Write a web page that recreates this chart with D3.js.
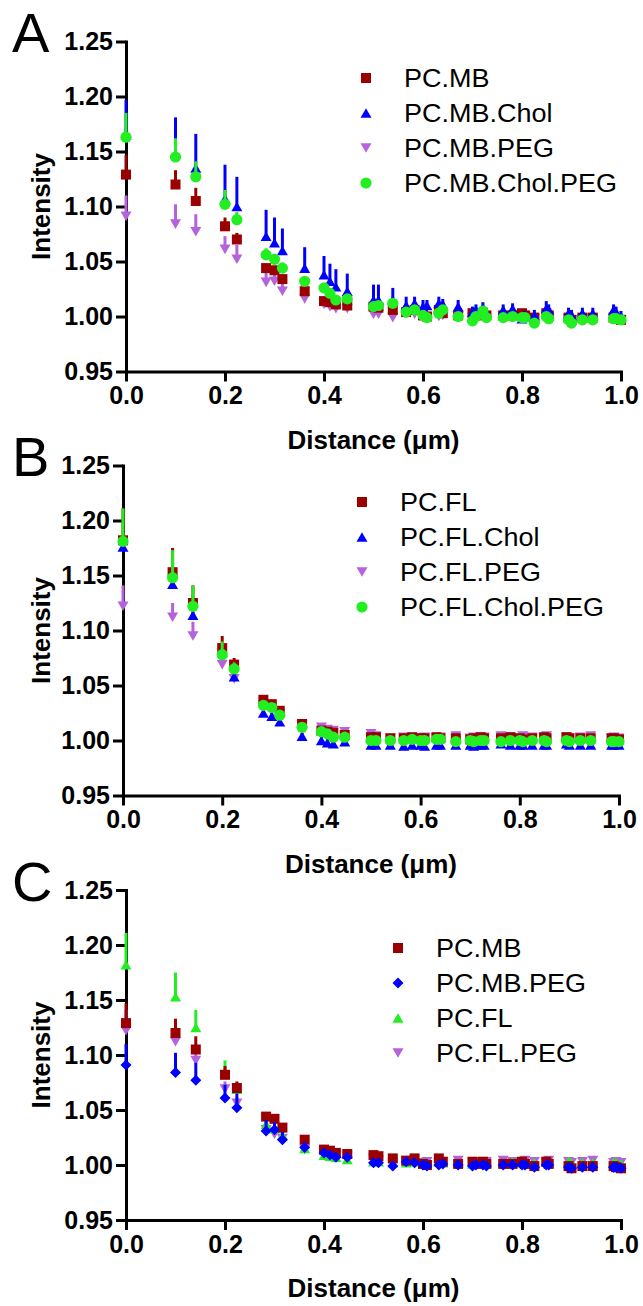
<!DOCTYPE html>
<html><head><meta charset="utf-8">
<script src="https://cdn.jsdelivr.net/npm/d3@7"></script>
<style>
body{margin:0;background:#fff}
svg{display:block}
text{font-family:"Liberation Sans",Arial,Helvetica,sans-serif;fill:#000}
</style>
</head><body>
<svg id="chart" width="643" height="1306"></svg>
<script>
// ---------- data ----------
const distances = [0, 0.1, 0.141, 0.2, 0.224, 0.283, 0.3, 0.316, 0.361, 0.4, 0.412, 0.424, 0.447, 0.5, 0.51, 0.539, 0.566, 0.583, 0.6, 0.608, 0.632, 0.64, 0.671, 0.7, 0.707, 0.721, 0.728, 0.762, 0.781, 0.8, 0.806, 0.825, 0.849, 0.854, 0.894, 0.9, 0.922, 0.943, 0.985, 0.99, 1.0];
const yTickValues = [0.95, 1.00, 1.05, 1.10, 1.15, 1.20, 1.25];
const xTickValues = [0.0, 0.2, 0.4, 0.6, 0.8, 1.0];
const yTickLabels = ["0.95", "1.00", "1.05", "1.10", "1.15", "1.20", "1.25"];
const xTickLabels = ["0.0", "0.2", "0.4", "0.6", "0.8", "1.0"];

// PC.MB
const pcMB    = [1.129,1.120,1.105,1.082,1.070,1.044,1.042,1.034,1.023,1.014,1.013,1.011,1.010,1.009,1.008,1.006,1.004,1.006,1.001,1.000,1.006,1.003,1.001,1.003,1.001,1.003,1.001,1.001,1.001,1.003,1.001,0.999,1.003,1.001,0.999,0.997,0.999,0.999,0.999,0.998,0.997];
const pcMBErr = [0.018,0.013,0.012,0.008,0.006,0.004,0.004,0.004,0.003,0.003,0.003,0.003,0.003,0.003,0.003,0.003,0.003,0.003,0.003,0.003,0.003,0.003,0.003,0.003,0.003,0.003,0.003,0.003,0.003,0.003,0.003,0.003,0.003,0.003,0.003,0.003,0.003,0.003,0.003,0.003,0.003];
// PC.MB.Chol
const pcMBChol    = [1.165,1.148,1.135,1.107,1.100,1.073,1.067,1.060,1.044,1.038,1.032,1.027,1.023,1.015,1.015,1.015,1.010,1.012,1.009,1.010,1.012,1.011,1.009,1.004,1.006,1.008,1.003,1.006,1.007,0.998,1.000,1.001,1.007,1.006,1.003,1.001,1.003,1.003,1.006,1.004,1.000];
const pcMBCholErr = [0.032,0.033,0.031,0.031,0.027,0.024,0.023,0.020,0.019,0.017,0.016,0.016,0.016,0.014,0.014,0.011,0.008,0.006,0.006,0.005,0.006,0.005,0.006,0.005,0.005,0.005,0.005,0.005,0.005,0.005,0.005,0.005,0.007,0.005,0.005,0.005,0.005,0.005,0.005,0.005,0.005];
// PC.MB.PEG
const pcMBPEG    = [1.091,1.084,1.077,1.061,1.052,1.031,1.032,1.023,1.016,1.011,1.009,1.007,1.007,1.002,1.002,0.999,1.003,1.002,1.000,0.999,1.000,1.001,1.000,0.999,1.000,1.000,0.999,1.000,1.000,1.000,1.000,0.998,1.000,1.000,0.998,0.997,0.998,0.998,0.998,0.998,0.997];
const pcMBPEGErr = [0.019,0.018,0.016,0.012,0.013,0.010,0.007,0.007,0.005,0.004,0.004,0.004,0.004,0.004,0.004,0.004,0.004,0.004,0.004,0.004,0.004,0.004,0.004,0.004,0.004,0.004,0.004,0.004,0.004,0.004,0.004,0.004,0.004,0.004,0.004,0.004,0.004,0.004,0.004,0.004,0.004];
// PC.MB.Chol.PEG
const pcMBCholPEG    = [1.163,1.145,1.127,1.102,1.088,1.056,1.052,1.044,1.032,1.026,1.021,1.015,1.016,1.009,1.010,1.012,1.004,1.006,1.001,0.999,1.003,1.006,1.000,0.996,1.000,1.005,0.999,0.999,1.000,0.999,0.999,0.994,1.000,0.998,0.997,0.994,0.997,0.997,0.998,0.998,0.997];
const pcMBCholPEGErr = [0.022,0.017,0.014,0.013,0.007,0.006,0.005,0.005,0.004,0.003,0.003,0.003,0.003,0.003,0.003,0.003,0.003,0.003,0.003,0.003,0.003,0.003,0.003,0.003,0.003,0.003,0.003,0.003,0.003,0.003,0.003,0.003,0.003,0.003,0.003,0.003,0.003,0.003,0.003,0.003,0.003];
// PC.FL
const pcFL    = [1.182,1.153,1.125,1.084,1.069,1.037,1.033,1.027,1.015,1.009,1.008,1.007,1.005,1.003,1.003,1.002,1.002,1.003,1.002,1.002,1.003,1.002,1.002,1.001,1.002,1.003,1.002,1.002,1.003,1.002,1.001,1.002,1.003,1.002,1.003,1.002,1.002,1.002,1.002,1.002,1.001];
const pcFLErr = [0.029,0.022,0.016,0.011,0.006,0.004,0.004,0.004,0.003,0.003,0.003,0.003,0.003,0.003,0.003,0.003,0.003,0.003,0.003,0.003,0.003,0.003,0.003,0.003,0.003,0.003,0.003,0.003,0.003,0.003,0.003,0.003,0.003,0.003,0.003,0.003,0.003,0.003,0.003,0.003,0.003];
// PC.FL.Chol
const pcFLChol    = [1.176,1.142,1.114,1.080,1.058,1.025,1.022,1.017,1.004,1.000,0.998,0.997,0.999,0.996,0.996,0.996,0.995,0.996,0.996,0.995,0.996,0.996,0.996,0.996,0.995,0.996,0.996,0.997,0.996,0.996,0.996,0.996,0.996,0.996,0.997,0.996,0.996,0.996,0.996,0.996,0.996];
const pcFLCholErr = [0.005,0.005,0.005,0.004,0.003,0.003,0.003,0.003,0.003,0.003,0.003,0.003,0.003,0.003,0.003,0.003,0.003,0.003,0.003,0.003,0.003,0.003,0.003,0.003,0.003,0.003,0.003,0.003,0.003,0.003,0.003,0.003,0.003,0.003,0.003,0.003,0.003,0.003,0.003,0.003,0.003];
// PC.FL.PEG
const pcFLPEG    = [1.122,1.112,1.095,1.069,1.056,1.032,1.028,1.024,1.014,1.012,1.010,1.009,1.008,1.006,1.004,1.002,1.003,1.001,1.002,1.003,1.002,1.003,1.004,1.002,1.003,1.002,1.003,1.004,1.003,1.002,1.004,1.003,1.002,1.004,1.003,1.002,1.003,1.004,1.002,1.003,1.002];
const pcFLPEGErr = [0.019,0.013,0.013,0.007,0.005,0.003,0.003,0.003,0.003,0.003,0.003,0.003,0.003,0.003,0.003,0.003,0.003,0.003,0.003,0.003,0.003,0.003,0.003,0.003,0.003,0.003,0.003,0.003,0.003,0.003,0.003,0.003,0.003,0.003,0.003,0.003,0.003,0.003,0.003,0.003,0.003];
// PC.FL.Chol.PEG
const pcFLCholPEG    = [1.181,1.148,1.122,1.078,1.065,1.032,1.030,1.023,1.012,1.008,1.006,1.003,1.003,1.000,1.000,1.000,1.000,1.001,1.000,1.000,1.001,1.001,0.999,1.000,0.999,1.000,1.000,0.999,1.000,1.000,0.999,1.000,1.000,0.999,1.000,0.999,1.000,1.000,0.999,0.999,0.999];
const pcFLCholPEGErr = [0.030,0.025,0.019,0.012,0.006,0.004,0.003,0.003,0.003,0.003,0.003,0.003,0.003,0.003,0.003,0.003,0.003,0.003,0.003,0.003,0.003,0.003,0.003,0.003,0.003,0.003,0.003,0.003,0.003,0.003,0.003,0.003,0.003,0.003,0.003,0.003,0.003,0.003,0.003,0.003,0.003];

const panelLetters = ["A", "B", "C"];
const legendA = ["PC.MB", "PC.MB.Chol", "PC.MB.PEG", "PC.MB.Chol.PEG"];
const legendB = ["PC.FL", "PC.FL.Chol", "PC.FL.PEG", "PC.FL.Chol.PEG"];
const legendC = ["PC.MB", "PC.MB.PEG", "PC.FL", "PC.FL.PEG"];
const xTitle = "Distance (\u03bcm)";
const yTitle = "Intensity";

// ---------- styles ----------
const RED = "#9b0000", BLUE = "#0000ff", PURPLE = "#b463dc", GREEN = "#22ee22";

// ---------- layout ----------
const panels = [
  { letter: panelLetters[0], left: 126, right: 621, top: 41.5, bottom: 371.5, legX: 366, legY: 78, legGap: 35,
    series: [
      { name: legendA[0], v: pcMB, e: pcMBErr, color: RED, shape: "square" },
      { name: legendA[1], v: pcMBChol, e: pcMBCholErr, color: BLUE, shape: "triUp" },
      { name: legendA[2], v: pcMBPEG, e: pcMBPEGErr, color: PURPLE, shape: "triDown" },
      { name: legendA[3], v: pcMBCholPEG, e: pcMBCholPEGErr, color: GREEN, shape: "circle" }
    ], order: [2, 0, 1, 3] },
  { letter: panelLetters[1], left: 123, right: 619, top: 465.5, bottom: 795.5, legX: 362, legY: 502, legGap: 35,
    series: [
      { name: legendB[0], v: pcFL, e: pcFLErr, color: RED, shape: "square" },
      { name: legendB[1], v: pcFLChol, e: pcFLCholErr, color: BLUE, shape: "triUp" },
      { name: legendB[2], v: pcFLPEG, e: pcFLPEGErr, color: PURPLE, shape: "triDown" },
      { name: legendB[3], v: pcFLCholPEG, e: pcFLCholPEGErr, color: GREEN, shape: "circle" }
    ], order: [2, 0, 1, 3] },
  { letter: panelLetters[2], left: 126, right: 621, top: 890, bottom: 1220, legX: 398, legY: 948, legGap: 35,
    series: [
      { name: legendC[0], v: pcMB, e: pcMBErr, color: RED, shape: "square" },
      { name: legendC[1], v: pcMBPEG, e: pcMBPEGErr, color: BLUE, shape: "diamond" },
      { name: legendC[2], v: pcFL, e: pcFLErr, color: GREEN, shape: "triUp" },
      { name: legendC[3], v: pcFLPEG, e: pcFLPEGErr, color: PURPLE, shape: "triDown" }
    ], order: [3, 2, 0, 1] }
];

function shapePath(shape) {
  switch (shape) {
    case "square": { const s = 10; return `M${-s/2},${-s/2}h${s}v${s}h${-s}Z`; }
    case "triUp": { const s = 11, h = s * 0.87; return `M0,${-h/2}L${s/2},${h/2}L${-s/2},${h/2}Z`; }
    case "triDown": { const s = 11, h = s * 0.87; return `M0,${h/2}L${s/2},${-h/2}L${-s/2},${-h/2}Z`; }
    case "diamond": { const s = 11; return `M0,${-s/2}L${s/2},0L0,${s/2}L${-s/2},0Z`; }
    case "circle": { const r = 5.6; return `M${r},0A${r},${r} 0 1,1 ${-r},0A${r},${r} 0 1,1 ${r},0Z`; }
  }
}

const svg = d3.select("#chart");

panels.forEach(p => {
  const x = d3.scaleLinear().domain([0, 1]).range([p.left, p.right]);
  const y = d3.scaleLinear().domain([0.95, 1.25]).range([p.bottom, p.top]);
  const g = svg.append("g");

  // y axis
  const ya = g.append("g").attr("transform", `translate(${p.left},0)`)
    .call(d3.axisLeft(y).tickValues(yTickValues).tickFormat((d, i) => yTickLabels[i]).tickSize(10).tickSizeOuter(0).tickPadding(3));
  // x axis
  const xa = g.append("g").attr("transform", `translate(0,${p.bottom})`)
    .call(d3.axisBottom(x).tickValues(xTickValues).tickFormat((d, i) => xTickLabels[i]).tickSize(10).tickSizeOuter(0).tickPadding(5));
  [ya, xa].forEach(a => {
    a.select(".domain").attr("stroke", "#000").attr("stroke-width", 3).attr("stroke-linecap", "square");
    a.selectAll(".tick line").attr("stroke", "#000").attr("stroke-width", 3);
    a.selectAll(".tick text").attr("font-size", 25).attr("font-weight", "bold")
      .style("font-family", '"Liberation Sans",Arial,sans-serif').attr("fill", "#000");
  });

  // titles
  g.append("text").attr("x", (p.left + p.right) / 2).attr("y", p.bottom + 77)
    .attr("text-anchor", "middle").attr("font-size", 26).attr("font-weight", "bold").text(xTitle);
  g.append("text").attr("transform", `translate(50,${(p.top + p.bottom) / 2}) rotate(-90)`)
    .attr("text-anchor", "middle").attr("font-size", 26).attr("font-weight", "bold").text(yTitle);
  g.append("text").attr("x", 12).attr("y", p.top + 10.5).attr("font-size", 56).text(p.letter);

  // data
  p.order.forEach(si => {
    const s = p.series[si];
    const sg = g.append("g");
    const pts = distances.map((d, i) => ({ d, v: s.v[i], e: s.e[i] }));
    sg.selectAll("line").data(pts).join("line")
      .attr("x1", d => x(d.d)).attr("x2", d => x(d.d))
      .attr("y1", d => y(d.v)).attr("y2", d => y(d.v + d.e))
      .attr("stroke", s.color).attr("stroke-width", 3);
    sg.selectAll("path").data(pts).join("path")
      .attr("d", shapePath(s.shape))
      .attr("transform", d => `translate(${x(d.d)},${y(d.v)})`)
      .attr("fill", s.color);
  });

  // legend
  const lg = g.append("g");
  p.series.forEach((s, i) => {
    const cy = p.legY + i * p.legGap;
    lg.append("path").attr("d", shapePath(s.shape)).attr("transform", `translate(${p.legX},${cy})`).attr("fill", s.color);
    lg.append("text").attr("transform", `translate(${p.legX + 38},${cy}) scale(1.08,1)`).attr("dy", "0.35em")
      .attr("font-size", 25).text(s.name);
  });
});
</script>
</body></html>
